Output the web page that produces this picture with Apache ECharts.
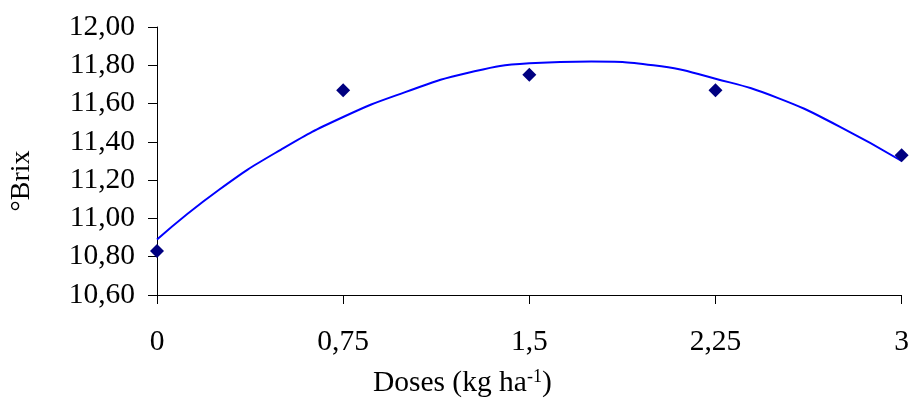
<!DOCTYPE html>
<html>
<head>
<meta charset="utf-8">
<script src="https://cdn.jsdelivr.net/npm/echarts@6/dist/echarts.min.js"></script>
<style>
  html, body { margin: 0; padding: 0; background: #fff; }
  #chart { width: 912px; height: 405px; }
</style>
</head>
<body>
<div id="chart"></div>
<script>
// pontos observados
var doses = [0, 0.75, 1.5, 2.25, 3];
var brix = [10.83, 11.67, 11.75, 11.67, 11.33];

// linha de tendência
var curveX = [0, 0.25, 0.5, 0.75, 1, 1.25, 1.5, 1.75, 2, 2.25, 2.5, 2.75, 3];
var curveY = [10.89, 11.15, 11.36, 11.53, 11.66, 11.76, 11.81, 11.82, 11.80, 11.73, 11.63, 11.48, 11.30];

function pairs(xs, ys) {
    var out = [];
    for (var i = 0; i < xs.length; i++) out.push([xs[i], ys[i]]);
    return out;
}

var chart = echarts.init(document.getElementById('chart'));

var font = 'Liberation Serif, Times New Roman, serif';

var option = {
    backgroundColor: '#fff',
    animation: false,
    grid: { left: 156, right: 9, top: 27, bottom: 110 },
    xAxis: {
        type: 'value',
        min: 0,
        max: 3,
        interval: 0.75,
        name: 'Doses (kg ha{sup|-1})',
        nameLocation: 'middle',
        nameGap: 73,
        nameTextStyle: {
            color: '#000',
            fontFamily: font,
            fontSize: 29.5,
            padding: [0, 134, 0, 0],
            rich: {
                sup: { fontFamily: font, fontSize: 18, color: '#000', verticalAlign: 'top', padding: [0, 0, 12, 0] }
            }
        },
        axisLine: { lineStyle: { color: '#000', width: 1 } },
        axisTick: { length: 9, lineStyle: { color: '#000' } },
        axisLabel: {
            color: '#000',
            fontFamily: font,
            fontSize: 29.5,
            margin: 32,
            formatter: function (v) { return String(v).replace('.', ','); }
        },
        splitLine: { show: false }
    },
    yAxis: {
        type: 'value',
        min: 10.6,
        max: 12,
        interval: 0.2,
        name: '°Brix',
        nameLocation: 'middle',
        nameGap: 121,
        nameTextStyle: {
            color: '#000',
            fontFamily: font,
            fontSize: 28,
            padding: [0, 40, 0, 0]
        },
        axisLine: { show: true, lineStyle: { color: '#000', width: 1 } },
        axisTick: { show: true, length: 9, lineStyle: { color: '#000' } },
        axisLabel: {
            color: '#000',
            fontFamily: font,
            fontSize: 29.5,
            margin: 22,
            formatter: function (v) { return v.toFixed(2).replace('.', ','); }
        },
        splitLine: { show: false }
    },
    series: [
        {
            type: 'line',
            data: pairs(curveX, curveY),
            smooth: true,
            showSymbol: false,
            lineStyle: { color: '#0000ff', width: 2 },
            z: 2
        },
        {
            type: 'scatter',
            data: pairs(doses, brix),
            symbol: 'diamond',
            symbolSize: 14,
            itemStyle: { color: '#000080', opacity: 1 },
            z: 3
        }
    ]
};

chart.setOption(option);
</script>
</body>
</html>
